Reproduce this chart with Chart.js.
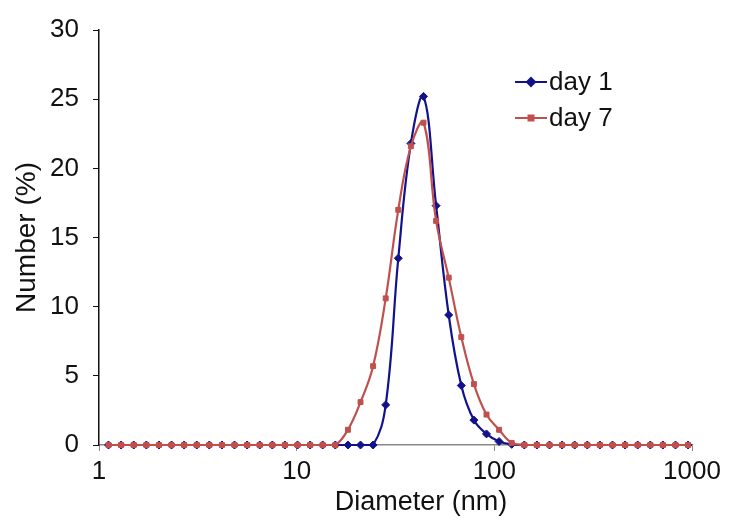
<!DOCTYPE html>
<html lang="en">
<head>
  <meta charset="UTF-8">
  <title>Size distribution</title>
  <script src="https://cdn.jsdelivr.net/npm/chart.js"></script>
  <style>
    body { margin: 0; background: #fff; }
    #wrap { width: 731px; height: 520px; }
  </style>
</head>
<body>
  <div id="wrap"><canvas id="sizeChart" width="731" height="520"></canvas></div>

  <script>
    // size classes (nm)
    const diameters = [1.117, 1.294, 1.499, 1.736, 2.010, 2.328, 2.696, 3.122, 3.615, 4.187,
      4.849, 5.615, 6.503, 7.531, 8.721, 10.10, 11.70, 13.54, 15.69, 18.17,
      21.04, 24.36, 28.21, 32.67, 37.84, 43.82, 50.75, 58.77, 68.06, 78.82,
      91.28, 105.7, 122.4, 141.8, 164.2, 190.1, 220.2, 255.0, 295.3, 342.0,
      396.1, 458.7, 531.2, 615.1, 712.4, 825.0, 955.4];
    const day1 = [0, 0, 0, 0, 0, 0, 0, 0, 0, 0,
      0, 0, 0, 0, 0, 0, 0, 0, 0, 0,
      0, 0, 2.9, 13.5, 21.8, 25.2, 17.3, 9.4, 4.3, 1.8,
      0.8, 0.25, 0.05, 0, 0, 0, 0, 0, 0, 0,
      0, 0, 0, 0, 0, 0, 0];
    const day7 = [0, 0, 0, 0, 0, 0, 0, 0, 0, 0,
      0, 0, 0, 0, 0, 0, 0, 0, 0, 1.1,
      3.1, 5.7, 10.6, 17.0, 21.6, 23.3, 16.2, 12.1, 7.8, 4.4,
      2.2, 1.1, 0.15, 0, 0, 0, 0, 0, 0, 0,
      0, 0, 0, 0, 0, 0, 0];
    const xTicks = [1, 10, 100, 1000];
    const xTitle = "Diameter (nm)";

    const blue = "#12128c";
    const red = "#c0504d";
    const font = "'Liberation Sans', Arial, sans-serif";

    const toPoints = ys => diameters.map((d, i) => ({ x: d, y: ys[i] }));

    // legend inside the plot (top right) and the x title, which sits right of centre
    const extras = {
      id: "extras",
      afterDraw(chart) {
        const ctx = chart.ctx;
        const items = [
          { ds: chart.data.datasets[0], y: 82 },
          { ds: chart.data.datasets[1], y: 118 }
        ];
        ctx.save();
        items.forEach(it => {
          ctx.strokeStyle = it.ds.borderColor;
          ctx.lineWidth = 2;
          ctx.beginPath();
          ctx.moveTo(515, it.y);
          ctx.lineTo(547, it.y);
          ctx.stroke();
          ctx.fillStyle = it.ds.backgroundColor;
          Chart.helpers.drawPoint(ctx, {
            pointStyle: it.ds.pointStyle,
            radius: it.ds.pointRadius,
            rotation: 0,
            borderWidth: 1
          }, 531, it.y);
          ctx.fillStyle = "#111";
          ctx.font = "26px " + font;
          ctx.textBaseline = "middle";
          ctx.textAlign = "left";
          ctx.fillText(it.ds.label, 549, it.y + 1);
        });
        ctx.fillStyle = "#111";
        ctx.font = "27px " + font;
        ctx.textAlign = "center";
        ctx.textBaseline = "middle";
        ctx.fillText(xTitle, 421, 503);
        ctx.restore();
      }
    };

    new Chart(document.getElementById("sizeChart").getContext("2d"), {
      type: "line",
      data: {
        datasets: [
          {
            label: "day 1",
            data: toPoints(day1),
            borderColor: blue,
            backgroundColor: blue,
            borderWidth: 2.2,
            pointStyle: "rectRot",
            pointRadius: 4,
            pointBorderWidth: 1,
            tension: 0.4,
            clip: false,
            order: 1
          },
          {
            label: "day 7",
            data: toPoints(day7),
            borderColor: red,
            backgroundColor: red,
            borderWidth: 2.2,
            pointStyle: "rect",
            pointRadius: 3.5,
            pointBorderWidth: 1,
            tension: 0.4,
            clip: false,
            order: 0
          }
        ]
      },
      options: {
        responsive: false,
        animation: false,
        layout: { padding: { top: 30, right: 39, left: 0, bottom: 0 } },
        plugins: {
          legend: { display: false },
          tooltip: { enabled: false }
        },
        scales: {
          x: {
            type: "logarithmic",
            min: 1,
            max: 1000,
            afterBuildTicks: axis => { axis.ticks = xTicks.map(v => ({ value: v })); },
            afterFit: axis => { axis.height = 75; },
            ticks: {
              autoSkip: false,
              maxRotation: 0,
              padding: 5,
              color: "#111",
              font: { family: font, size: 26 },
              callback: v => String(v)
            },
            grid: { drawOnChartArea: false, tickLength: 6, color: "#888" },
            border: { color: "#888", width: 1.5 }
          },
          y: {
            min: 0,
            max: 30,
            afterFit: axis => { axis.width = 99; },
            ticks: {
              stepSize: 5,
              padding: 14,
              color: "#111",
              font: { family: font, size: 26 }
            },
            grid: { drawOnChartArea: false, tickLength: 6, color: "#111" },
            border: { color: "#111", width: 1.5 },
            title: {
              display: true,
              text: "Number (%)",
              color: "#111",
              font: { family: font, size: 28 },
              padding: { top: 10, bottom: 0 }
            }
          }
        }
      },
      plugins: [extras]
    });
  </script>
</body>
</html>
